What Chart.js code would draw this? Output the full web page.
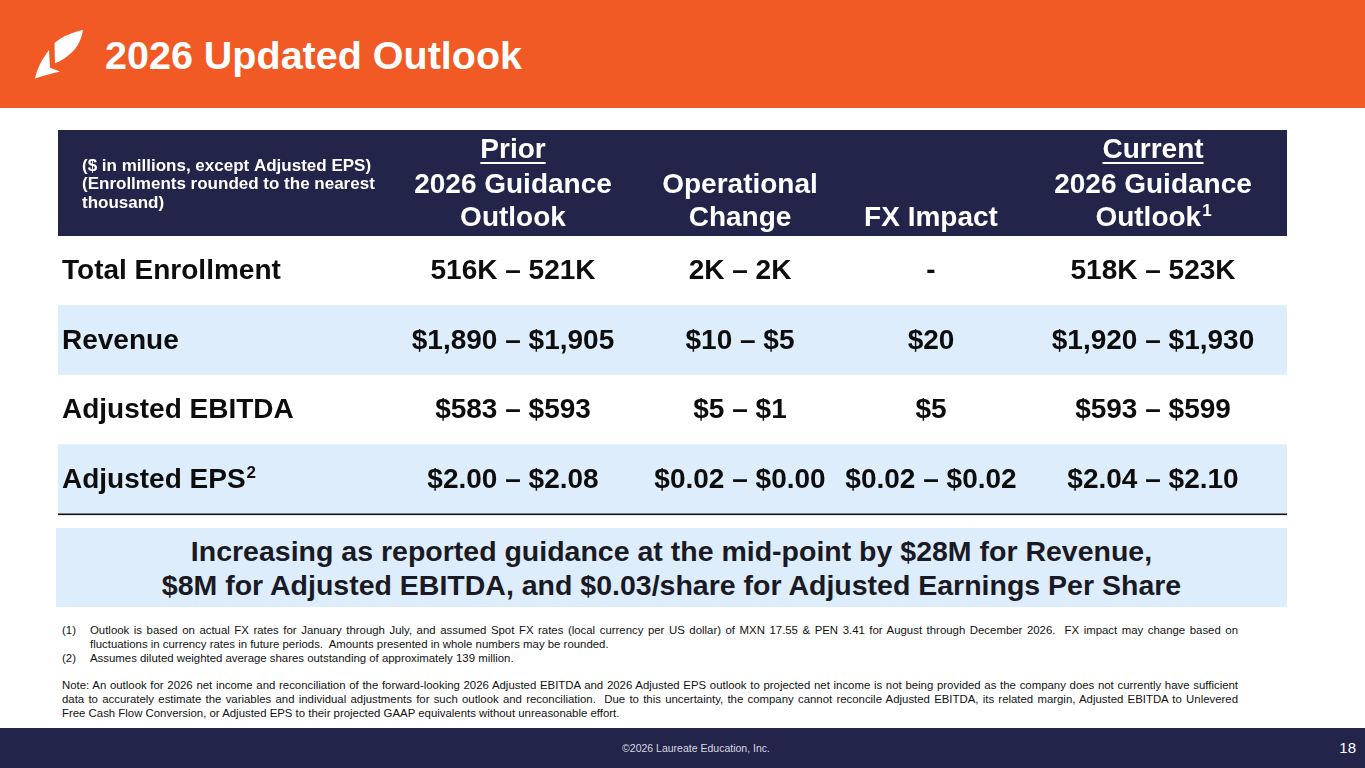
<!DOCTYPE html>
<html>
<head>
<meta charset="utf-8">
<title>2026 Updated Outlook</title>
<script src="https://cdn.jsdelivr.net/npm/chart.js@4.4.1/dist/chart.umd.min.js"></script>
<style>
  html, body { margin: 0; padding: 0; background: #fff; }
  body { width: 1365px; height: 768px; position: relative; overflow: hidden; font-family: "Liberation Sans", Arial, sans-serif; }
  .topbar { position: absolute; left: 0; top: 0; width: 1365px; height: 108px; background: #f15a24; }
  .topbar svg { position: absolute; left: 28px; top: 26px; }
  .topbar h1 { position: absolute; left: 105px; top: 32px; margin: 0; color: #fff; font-size: 39.5px; font-weight: bold; line-height: 46px; }
  .table-wrap { position: absolute; left: 58px; top: 130px; width: 1229px; height: 386px; }
  .callout { position: absolute; left: 56px; top: 528px; width: 1231px; height: 79px; background: #deedfb;
    display: flex; align-items: center; justify-content: center; text-align: center;
    color: #1a1a24; font-weight: bold; font-size: 28.5px; line-height: 34px; }
  .notes { position: absolute; left: 62px; top: 624px; width: 1176px; font-family: "Liberation Sans Narrow", "Arial Narrow", "Liberation Sans", sans-serif;
    font-size: 11.4px; line-height: 13.8px; color: #111; }
  .notes .ln { text-align: justify; text-align-last: justify; white-space: nowrap; }
  .notes .ln.end { text-align-last: left; }
  .notes .ind { padding-left: 28px; }
  .notes .num { position: absolute; left: 0; }
  .notes .gap { height: 13.8px; }
  .footer { position: absolute; left: 0; top: 728px; width: 1365px; height: 40px; background: #23244a; }
  .footer .copy { position: absolute; left: 0; width: 1392px; top: 14px; text-align: center; color: #d8d8e0;
    font-family: "Liberation Sans Narrow", "Arial Narrow", "Liberation Sans", sans-serif; font-size: 10.5px; }
  .footer .page { position: absolute; right: 9px; top: 11px; color: #fff; font-size: 15px;
    font-family: "Liberation Sans Narrow", "Arial Narrow", "Liberation Sans", sans-serif; }
</style>
</head>
<body>
<div class="topbar">
  <svg width="60" height="60" viewBox="0 0 60 60">
    <path d="M26.5 17 C35 10 45 6 55 4 C53 16 48 24 38.7 30.7 C35 33.5 31 35.5 27 37.3 Z" fill="#fff"/>
    <path d="M21 24 C14 33 9 43 7 52.5 C15 50 24 47 32 45.5 L22 41.7 Z" fill="#fff"/>
  </svg>
  <h1>2026 Updated Outlook</h1>
</div>

<div class="table-wrap"><canvas id="outlookTable"></canvas></div>

<div class="callout">Increasing as reported guidance at the mid-point by $28M for Revenue,<br>$8M for Adjusted EBITDA, and $0.03/share for Adjusted Earnings Per Share</div>

<div class="notes">
  <div style="position:relative" class="ln ind"><span class="num">(1)</span>Outlook is based on actual FX rates for January through July, and assumed Spot FX rates (local currency per US dollar) of MXN 17.55 &amp; PEN 3.41 for August through December 2026.&nbsp; FX impact may change based on</div>
  <div class="ln ind end">fluctuations in currency rates in future periods.&nbsp; Amounts presented in whole numbers may be rounded.</div>
  <div style="position:relative" class="ln ind end"><span class="num">(2)</span>Assumes diluted weighted average shares outstanding of approximately 139 million.</div>
  <div class="gap"></div>
  <div class="ln">Note: An outlook for 2026 net income and reconciliation of the forward-looking 2026 Adjusted EBITDA and 2026 Adjusted EPS outlook to projected net income is not being provided as the company does not currently have sufficient</div>
  <div class="ln">data to accurately estimate the variables and individual adjustments for such outlook and reconciliation.&nbsp; Due to this uncertainty, the company cannot reconcile Adjusted EBITDA, its related margin, Adjusted EBITDA to Unlevered</div>
  <div class="ln end">Free Cash Flow Conversion, or Adjusted EPS to their projected GAAP equivalents without unreasonable effort.</div>
</div>

<div class="footer">
  <div class="copy">©2026 Laureate Education, Inc.</div>
  <div class="page">18</div>
</div>

<script>
// table content
const metrics = ['Total Enrollment', 'Revenue', 'Adjusted EBITDA', 'Adjusted EPS'];
const metricNotes = ['', '', '', '2'];
const priorOutlook = ['516K – 521K', '$1,890 – $1,905', '$583 – $593', '$2.00 – $2.08'];
const operationalChange = ['2K – 2K', '$10 – $5', '$5 – $1', '$0.02 – $0.00'];
const fxImpact = ['-', '$20', '$5', '$0.02 – $0.02'];
const currentOutlook = ['518K – 523K', '$1,920 – $1,930', '$593 – $599', '$2.04 – $2.10'];
const unitsNote = ['($ in millions, except Adjusted EPS)', '(Enrollments rounded to the nearest', 'thousand)'];
const columnHeads = [
  ['Prior', '2026 Guidance', 'Outlook'],
  ['', 'Operational', 'Change'],
  ['', '', 'FX Impact'],
  ['Current', '2026 Guidance', 'Outlook']
];
const columnNotes = ['', '', '', '1'];
const valueColumns = [priorOutlook, operationalChange, fxImpact, currentOutlook];

// layout (x positions in table units, 0 = table left edge)
const TABLE_W = 1229;
const LABEL_X = 4;
const COL_X = [455, 682, 873, 1095];
const HEADER_H = 106;
const NAVY = '#23244a';
const BAND = '#deedfb';
const FONT = '"Liberation Sans", Arial, sans-serif';

const drawSup = (ctx, text, sup, x, y, align, size) => {
  const supSize = Math.round(size * 0.6);
  ctx.font = 'bold ' + size + 'px ' + FONT;
  const w = ctx.measureText(text).width;
  ctx.font = 'bold ' + supSize + 'px ' + FONT;
  const sw = sup ? ctx.measureText(sup).width : 0;
  const left = align === 'center' ? x - (w + sw) / 2 : x;
  ctx.textAlign = 'left';
  ctx.font = 'bold ' + size + 'px ' + FONT;
  ctx.fillText(text, left, y);
  if (sup) {
    ctx.font = 'bold ' + supSize + 'px ' + FONT;
    ctx.fillText(sup, left + w + 1, y - size * 0.25);
  }
  return { left: left, width: w };
};

const tablePlugin = {
  id: 'tableCells',
  afterDatasetsDraw(chart) {
    const { ctx, chartArea, scales } = chart;
    const x = scales.x, y = scales.y;
    ctx.save();
    // header band
    ctx.fillStyle = NAVY;
    ctx.fillRect(chartArea.left, chartArea.top - HEADER_H, chartArea.right - chartArea.left, HEADER_H);
    ctx.textBaseline = 'middle';
    ctx.fillStyle = '#fff';
    ctx.font = 'bold 17px ' + FONT;
    ctx.textAlign = 'left';
    unitsNote.forEach((t, i) => {
      ctx.fillText(t, x.getPixelForValue(24), chartArea.top - 70 + i * 18.5);
    });
    const lineY = [chartArea.top - 86, chartArea.top - 51, chartArea.top - 18];
    columnHeads.forEach((lines, c) => {
      const cx = x.getPixelForValue(COL_X[c]);
      lines.forEach((t, i) => {
        if (!t) return;
        const sup = i === 2 ? columnNotes[c] : '';
        const m = drawSup(ctx, t, sup, cx, lineY[i], 'center', 28);
        if (i === 0) {
          ctx.fillRect(m.left, lineY[i] + 12, m.width, 2);
        }
      });
    });
    // body cells
    ctx.fillStyle = '#0d0d0d';
    metrics.forEach((label, r) => {
      const py = y.getPixelForValue(r) + 1;
      drawSup(ctx, label, metricNotes[r], x.getPixelForValue(LABEL_X), py, 'left', 28);
      valueColumns.forEach((col, c) => {
        drawSup(ctx, col[r], '', x.getPixelForValue(COL_X[c]), py, 'center', 28);
      });
    });
    // bottom rule
    ctx.fillStyle = '#111';
    ctx.fillRect(chartArea.left, chartArea.bottom - 0.5, chartArea.right - chartArea.left, 1.6);
    ctx.restore();
  }
};

const initTable = () => {
  const canvas = document.getElementById('outlookTable');
  if (!canvas || typeof Chart === 'undefined') return;
  new Chart(canvas.getContext('2d'), {
    type: 'bar',
    data: {
      labels: metrics,
      datasets: [{
        label: 'rows',
        data: metrics.map(() => [0, TABLE_W]),
        backgroundColor: metrics.map((m, i) => (i % 2 ? BAND : '#ffffff')),
        borderWidth: 0,
        barPercentage: 1,
        categoryPercentage: 1
      }]
    },
    plugins: [tablePlugin],
    options: {
      indexAxis: 'y',
      responsive: true,
      maintainAspectRatio: false,
      animation: false,
      layout: { padding: { top: HEADER_H, bottom: 2, left: 0, right: 0 } },
      scales: {
        x: { type: 'linear', min: 0, max: TABLE_W, display: false },
        y: { type: 'category', display: false, offset: true }
      },
      plugins: {
        legend: { display: false },
        tooltip: { enabled: false }
      }
    }
  });
};

document.addEventListener('DOMContentLoaded', initTable);
</script>
</body>
</html>
